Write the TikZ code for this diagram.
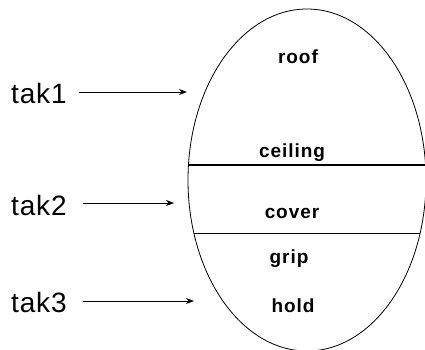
\documentclass[tikz,border=0pt]{standalone}
\usepackage{fontspec}
\setmainfont{Liberation Sans}
\newfontfamily\takfont{Liberation Sans}[LetterSpace=3]
\newfontfamily\labfont{Liberation Sans}[LetterSpace=5]
\usetikzlibrary{arrows.meta,shapes.geometric}
\begin{document}
\begin{tikzpicture}[x=1pt,y=-1pt,
  tak/.style={font=\takfont\fontsize{28}{28}\selectfont, anchor=base west, inner sep=0pt},
  lab/.style={font=\labfont\bfseries\fontsize{19}{19}\selectfont, anchor=base, inner sep=0pt},
  ptr/.style={-{Stealth[length=8pt,width=6pt]}, line width=1pt},
  thinptr/.style={-{Stealth[length=8pt,width=6pt]}, line width=0.6pt}]
\useasboundingbox (0,0) rectangle (425,349);
\clip (0,0) rectangle (425,349);
% the egg
\node[draw, ellipse, minimum width=238pt, minimum height=342pt, inner sep=0pt, line width=0.8pt] (egg) at (307,180) {};
% dividing lines
\coordinate (l1a) at (188.5,165);
\coordinate (l1b) at (425.5,165);
\coordinate (l2a) at (193.9,233);
\coordinate (l2b) at (420.1,233);
\draw[line width=1.3pt] (l1a) -- (l1b);
\draw[line width=0.6pt] (l2a) -- (l2b);
% labels inside
\node[lab] (roof) at (298,63) {roof};
\node[lab] (ceil) at (292,157) {ceiling};
\node[lab] (cover) at (292,218) {cover};
\node[lab] (grip) at (289,263) {grip};
\node[lab] (hold) at (293,312) {hold};
% outside labels
\node[tak] (t1) at (11,103) {tak1};
\node[tak] (t2) at (11,215) {tak2};
\node[tak] (t3) at (11,312) {tak3};
% arrows
\coordinate (e1) at (187,92);
\coordinate (e2) at (174,203);
\coordinate (e3) at (194,301);
\draw[ptr, shorten <=12pt] (t1.east |- e1) -- (e1);
\draw[thinptr, shorten <=16pt] (t2.east |- e2) -- (e2);
\draw[ptr, shorten <=16pt] (t3.east |- e3) -- (e3);
\end{tikzpicture}
\end{document}
